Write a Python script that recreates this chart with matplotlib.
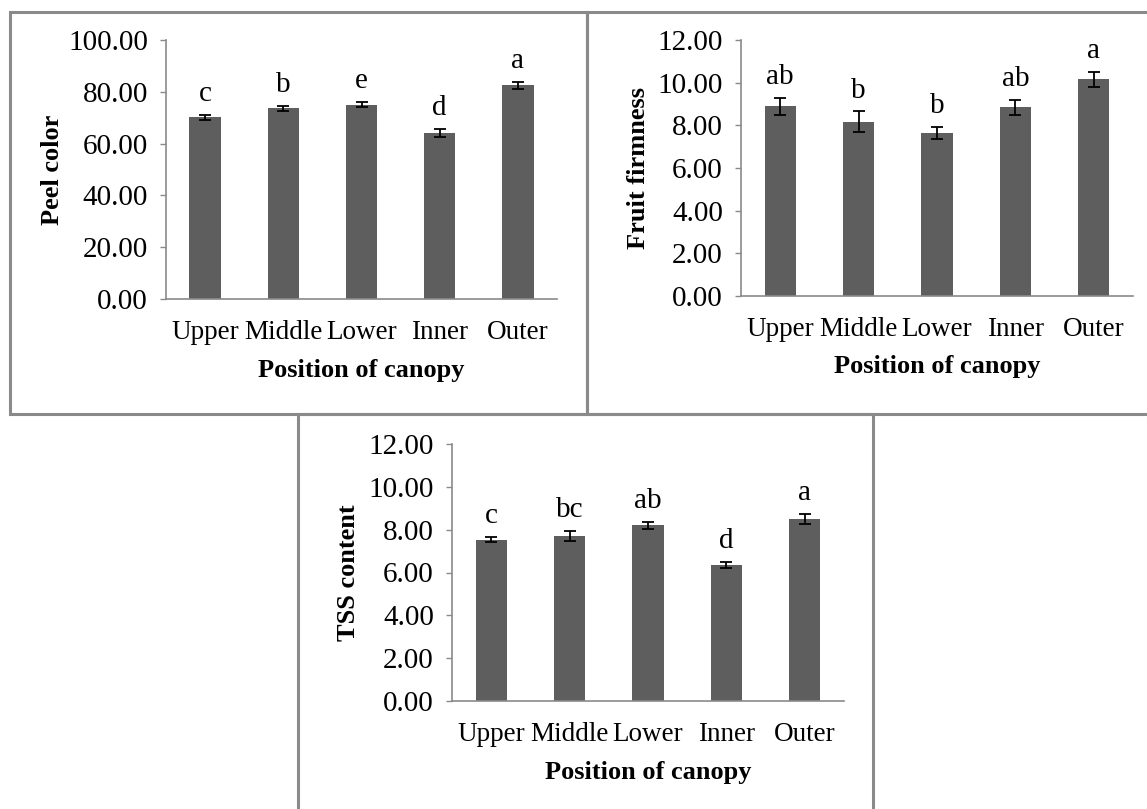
import matplotlib.pyplot as plt
from matplotlib.patches import Rectangle

positions = ["Upper", "Middle", "Lower", "Inner", "Outer"]

peel_color = [70.1, 73.6, 75.0, 64.0, 82.5]
peel_err = [0.8, 0.9, 1.0, 1.6, 1.4]
peel_letters = ["c", "b", "e", "d", "a"]

firmness = [8.89, 8.17, 7.64, 8.84, 10.16]
firmness_err = [0.39, 0.48, 0.30, 0.34, 0.36]
firmness_letters = ["ab", "b", "b", "ab", "a"]

tss = [7.53, 7.71, 8.20, 6.34, 8.49]
tss_err = [0.12, 0.22, 0.16, 0.14, 0.23]
tss_letters = ["c", "bc", "ab", "d", "a"]

W, H = 1147, 809
plt.rcParams["font.family"] = ["Liberation Serif", "DejaVu Serif"]
plt.rcParams["font.size"] = 18

fig = plt.figure(figsize=(W / 100, H / 100), dpi=100)


def px_axes(left, right, top, bottom):
    return fig.add_axes([left / W, 1 - bottom / H, (right - left) / W, (bottom - top) / H])


def px_box(x0, y0, x1, y1):
    r = Rectangle((x0 / W, 1 - y1 / H), (x1 - x0) / W, (y1 - y0) / H,
                  transform=fig.transFigure, fill=False, edgecolor="#8a8a8a",
                  linewidth=2.2, clip_on=False)
    fig.add_artist(r)


def panel(ax, values, errs, letters, ymax, ylabel, ylab_x):
    x = range(len(positions))
    ax.bar(x, values, width=0.4, color="#5e5e5e", zorder=2)
    ax.errorbar(x, values, yerr=errs, fmt="none", ecolor="black",
                elinewidth=1.3, capsize=4, capthick=1.3, zorder=3)
    for i, (v, e, lab) in enumerate(zip(values, errs, letters)):
        ax.annotate(lab, (i, v + e), xytext=(0, 10), textcoords="offset points",
                    ha="center", va="baseline", fontsize=21)
    ax.set_xlim(-0.5, len(positions) - 0.5)
    ax.set_ylim(0, ymax)
    step = 20 if ymax == 100 else 2
    ax.set_yticks([k * step for k in range(int(ymax / step) + 1)])
    ax.yaxis.set_major_formatter(plt.FormatStrFormatter("%.2f"))
    ax.set_xticks(list(x))
    ax.set_xticklabels(positions)
    for s in ["top", "right"]:
        ax.spines[s].set_visible(False)
    for s in ["left", "bottom"]:
        ax.spines[s].set_color("#8a8a8a")
        ax.spines[s].set_linewidth(1.2)
    ax.tick_params(axis="y", length=4, width=1.0, color="#8a8a8a", pad=9, labelsize=21)
    ax.tick_params(axis="x", length=0, pad=15, labelsize=19.5)
    ax.set_ylabel(ylabel, fontweight="bold", fontsize=19)
    ax.yaxis.set_label_coords(ylab_x, 0.5)
    ax.yaxis.label.set_va("center")
    ax.set_xlabel("Position of canopy", fontweight="bold", fontsize=19)
    ax.xaxis.set_label_coords(0.5, -0.277)
    ax.xaxis.label.set_va("center")


ax1 = px_axes(166, 557, 40, 299)
panel(ax1, peel_color, peel_err, peel_letters, 100, "Peel color", -0.29)

ax2 = px_axes(741, 1133, 40, 296)
panel(ax2, firmness, firmness_err, firmness_letters, 12, "Fruit firmness", -0.262)

ax3 = px_axes(452, 844, 444, 701)
panel(ax3, tss, tss_err, tss_letters, 12, "TSS content", -0.265)

px_box(10, 12, 587, 414)
px_box(587, 12, 1160, 414)
px_box(298, 414, 873, 830)

fig.savefig("out.png", dpi=100)
